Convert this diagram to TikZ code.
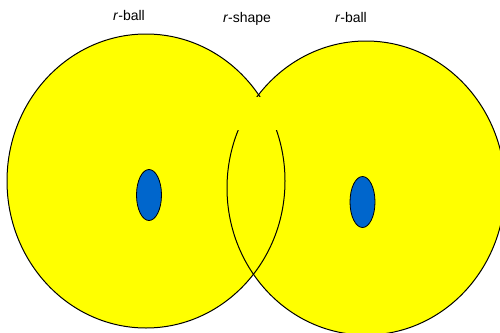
\documentclass[tikz,border=0pt]{standalone}
\usepackage{fontspec}
\setmainfont{Liberation Sans}
\definecolor{ballyellow}{RGB}{255,255,0}
\definecolor{coreblue}{RGB}{0,102,204}

\begin{document}
\begin{tikzpicture}[
    x=1pt, y=-1pt,
    ball/.style={fill=ballyellow},
    rim/.style={draw=black, line width=1pt},
    core/.style={draw=black, line width=0.8pt, fill=coreblue},
    lbl/.style={anchor=base, inner sep=0pt, font=\fontsize{14}{16}\selectfont},
  ]
    \useasboundingbox (0,0) rectangle (500,332);
    \clip (0,0) rectangle (500,332);

    % the two balls
    \fill[ball] (146,181) ellipse [x radius=139, y radius=147];
    \fill[ball] (366,188) ellipse [x radius=139, y radius=147];
    \draw[rim] (146,181) ellipse [x radius=139, y radius=147];
    \draw[rim] (366,188) ellipse [x radius=139, y radius=147];

    % hide the inner rims just below the neck
    \fill[ball] (232,96.5) rectangle (284,130);

    \draw[core] (149,195) ellipse [x radius=12.5, y radius=25.5];
    \draw[core] (362.5,202) ellipse [x radius=12.5, y radius=25.5];

    \node[lbl] (lball) at (129,20.7) {\textit{r}-ball};
    \node[lbl] (shape) at (247,22.5) {\textit{r}-shape};
    \node[lbl] (rball) at (351,22.3) {\textit{r}-ball};
  \end{tikzpicture}
\end{document}
